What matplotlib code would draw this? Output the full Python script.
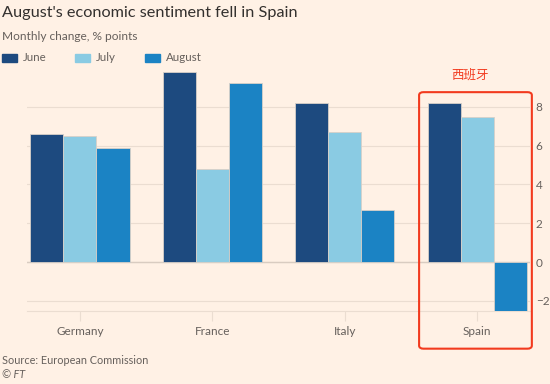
import numpy as np
import matplotlib
matplotlib.use("Agg")
import matplotlib.pyplot as plt
from matplotlib.patches import FancyBboxPatch, Rectangle

plt.rcParams['font.family'] = ['Lato', 'Noto Sans CJK SC', 'DejaVu Sans']

countries = ["Germany", "France", "Italy", "Spain"]
series = ["June", "July", "August"]
june = [6.6, 9.8, 8.2, 8.2]
july = [6.5, 4.8, 6.7, 7.5]
august = [5.9, 9.2, 2.7, -2.5]
yticks = [-2, 0, 2, 4, 6, 8]

bg = "#FFF1E5"
colors = ["#1D4A7F", "#8ACBE3", "#1B83C4"]
grid_col = "#EBDDD1"
text_col = "#66605C"

fig = plt.figure(figsize=(5.5, 3.84), dpi=100, facecolor=bg)
ax = fig.add_axes([0.049, 0.19, 0.915, 0.633], facecolor=bg)

x = np.arange(len(countries))
w = 0.25
for i, vals in enumerate([june, july, august]):
    ax.bar(x + (i - 1) * w, vals, w, color=colors[i], edgecolor="#D8D0C8",
           linewidth=0.6, zorder=3)

ax.set_xlim(-0.4, 3.4)
ax.set_ylim(-2.52, 10)
ax.set_yticks(yticks)
ax.yaxis.tick_right()
ax.tick_params(axis="y", length=0, labelsize=8.5, labelcolor=text_col, pad=4)
ax.set_xticks(x)
ax.set_xticklabels(countries)
ax.tick_params(axis="x", length=7, color=grid_col, labelsize=8.5, labelcolor=text_col, pad=4)
ax.grid(axis="y", color=grid_col, linewidth=0.8, zorder=0)
ax.axhline(0, color="#D9CCC1", linewidth=1, zorder=2)
for s in ["top", "left", "right"]:
    ax.spines[s].set_visible(False)
ax.spines["bottom"].set_color(grid_col)

fig.text(0.004, 0.965, "August's economic sentiment fell in Spain", fontsize=11.7,
         color="#33302E", va="center")
fig.text(0.004, 0.905, "Monthly change, % points", fontsize=8.6, color=text_col, va="center")

lx = [0.004, 0.136, 0.264]
for i, name in enumerate(series):
    fig.patches.append(Rectangle((lx[i], 0.838), 0.027, 0.022, transform=fig.transFigure,
                                 color=colors[i], figure=fig))
    fig.text(lx[i] + 0.038, 0.849, name, fontsize=8.3, color=text_col, va="center")

fig.text(0.004, 0.062, "Source: European Commission", fontsize=7.8, color=text_col, va="center")
fig.text(0.004, 0.024, "© FT", fontsize=7.8, color=text_col, va="center", style="italic")

box = FancyBboxPatch((0.762, 0.092), 0.205, 0.668, boxstyle="round,pad=0,rounding_size=0.008",
                     transform=fig.transFigure, fill=False, edgecolor="#F23A1E",
                     linewidth=1.5, figure=fig)
fig.patches.append(box)
fig.text(0.855, 0.805, "西班牙", fontsize=9, color="#F23A1E", ha="center", va="center")

fig.savefig("out.png", dpi=100, facecolor=bg)
